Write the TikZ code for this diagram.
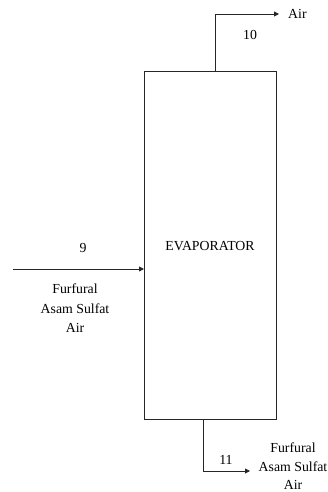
\documentclass[tikz,border=0pt]{standalone}
\usepackage{fontspec}
\setmainfont{Liberation Serif}
\usetikzlibrary{arrows.meta}
\begin{document}
\begin{tikzpicture}[x=1pt,y=-1pt,
  flow/.style={line width=0.9pt,draw=black!85,-{Triangle[length=5pt,width=5pt]}},
  lbl/.style={font=\fontsize{13.8}{19.5}\selectfont,inner sep=0pt,align=center},
  unit/.style={draw=black!85,line width=0.9pt,minimum width=132pt,minimum height=348pt,inner sep=0pt}]
\useasboundingbox (0,0) rectangle (328,492);
\node[unit] (evap) at (210,245) {};
\node[lbl] (evlbl) at (210,246) {EVAPORATOR};
% top outlet
\coordinate (t0) at (215,71);
\coordinate (t1) at (215,14);
\coordinate (t2) at (279,14);
\node[lbl,anchor=west] (air10) at (288,14) {Air};
\node[lbl] (n10) at (250,35) {10};
\draw[flow] (t0) -- (t1) -- (t2);
% inlet
\coordinate (i0) at (13,269);
\coordinate (i1) at (144,269);
\node[lbl] (n9) at (83,248) {9};
\node[lbl,anchor=north] (in9) at (75,284) {Furfural\\Asam Sulfat\\Air};
\draw[flow] (i0) -- (i1);
% bottom outlet
\coordinate (b0) at (203,419);
\coordinate (b1) at (203,471);
\coordinate (b2) at (250,471);
\node[lbl] (n11) at (226,460) {11};
\node[lbl,anchor=north,font=\fontsize{13.8}{18.5}\selectfont] (out11) at (293,443) {Furfural\\Asam Sulfat\\Air};
\draw[flow] (b0) -- (b1) -- (b2);
\end{tikzpicture}
\end{document}
